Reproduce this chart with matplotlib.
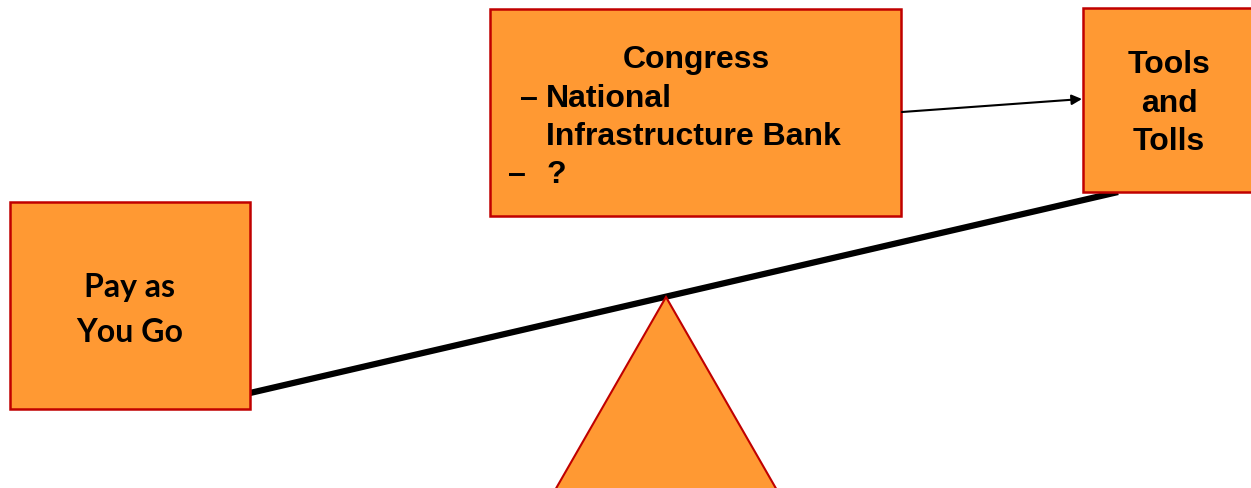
import matplotlib.pyplot as plt
from matplotlib.patches import Rectangle, Polygon

# labels
left_lines = ["Pay as", "You Go"]
right_lines = ["Tools", "and", "Tolls"]
mid_title = "Congress"
mid_items = ["\u2013", "National", "Infrastructure Bank", "\u2013", "?"]

fill = '#FF9933'
edge = '#C00000'

fig = plt.figure(figsize=(12.51, 4.89), dpi=100)
ax = fig.add_axes([0, 0, 1, 1])
ax.set_xlim(0, 1251)
ax.set_ylim(489, 0)
ax.axis('off')

# beam and pivot
ax.plot([250, 1118], [394, 193], color='black', lw=4.5, solid_capstyle='butt', zorder=1)
ax.add_patch(Polygon([[666, 298], [504, 580], [828, 580]], closed=True,
                     facecolor=fill, edgecolor=edge, lw=1.5, zorder=2))

# boxes
for (x0, y0, w, h) in [(10, 203, 240, 207), (490, 10, 411, 207), (1083, 9, 180, 184)]:
    ax.add_patch(Rectangle((x0, y0), w, h, facecolor=fill, edgecolor=edge, lw=1.8, zorder=3))

for s, yb in zip(left_lines, [297, 342]):
    ax.text(130, yb, s, ha='center', va='baseline', fontsize=23, fontweight='bold',
            family='Lato', zorder=4)

tkw = dict(fontsize=23, fontweight='bold', family='Liberation Sans', va='baseline', zorder=4)
for s, yb in zip(right_lines, [73, 112, 150]):
    ax.text(1169, yb, s, ha='center', **tkw)

ax.text(696, 68, mid_title, ha='center', **tkw)
ax.text(538, 107, mid_items[0], ha='right', **tkw)
ax.text(546, 107, mid_items[1], ha='left', **tkw)
ax.text(546, 145, mid_items[2], ha='left', **tkw)
ax.text(508, 183, mid_items[3], ha='left', **tkw)
ax.text(546, 183, mid_items[4], ha='left', **tkw)

# arrow to right box
ax.annotate('', xy=(1082, 100), xytext=(902, 113),
            arrowprops=dict(arrowstyle='-|>', color='black', lw=1.5, mutation_scale=15,
                            shrinkA=0, shrinkB=0),
            zorder=4)

plt.savefig('out.png', dpi=100)
